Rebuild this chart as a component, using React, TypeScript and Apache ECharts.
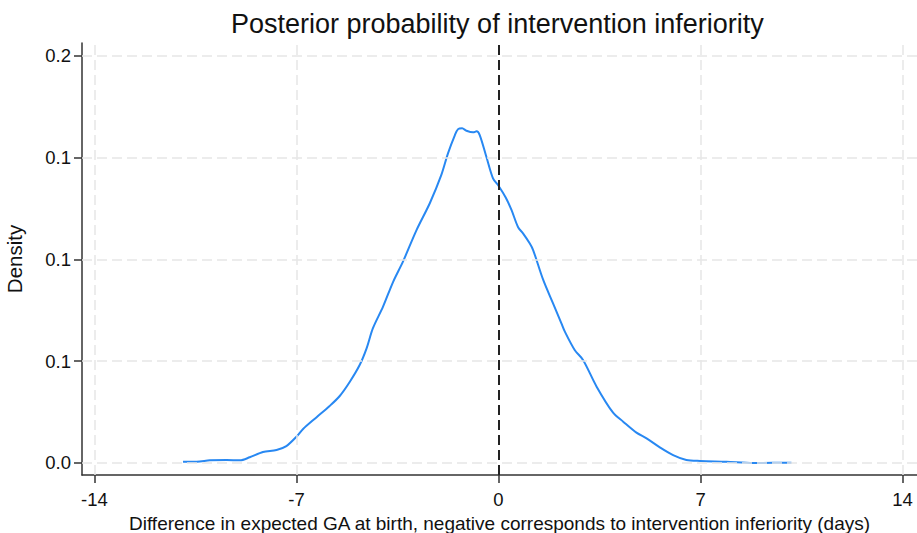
import React, { useEffect, useRef } from "react";
import * as echarts from "echarts";

const titleText = "Posterior probability of intervention inferiority";
const xAxisTitle = "Difference in expected GA at birth, negative corresponds to intervention inferiority (days)";
const yAxisTitle = "Density";

const xTicks = [-14, -7, 0, 7, 14];
const xTickLabels = ["-14", "-7", "0", "7", "14"];
const yTicks = [0, 0.05, 0.1, 0.15, 0.2];
const yTickLabels = ["0.0", "0.1", "0.1", "0.1", "0.2"];
const referenceX = 0;

const diffDays = [
  -10.93, -10.46, -10.0, -9.42, -8.96, -8.62, -8.16, -7.69, -7.35, -7.0, -6.77, -6.31, -5.85, -5.5,
  -5.15, -4.81, -4.57, -4.35, -4.0, -3.65, -3.31, -2.84, -2.38, -1.98, -1.75, -1.51, -1.4, -1.26,
  -1.11, -0.88, -0.76, -0.65, -0.42, -0.19, 0.0, 0.25, 0.45, 0.68, 0.85, 1.08, 1.2, 1.55, 1.89,
  2.18, 2.3, 2.64, 2.93, 3.4, 3.97, 4.32, 4.78, 5.13, 5.59, 6.05, 6.51, 6.99, 7.9, 8.82, 9.51, 10.15,
];
const density = [
  0.0006, 0.0006, 0.0013, 0.0015, 0.0013, 0.0028, 0.0054, 0.0064, 0.0083, 0.0129, 0.0167, 0.0224,
  0.028, 0.0329, 0.0399, 0.0481, 0.0563, 0.0662, 0.0768, 0.089, 0.0989, 0.1144, 0.1276, 0.1415,
  0.1521, 0.1611, 0.164, 0.1644, 0.1632, 0.1624, 0.1629, 0.1611, 0.1504, 0.1398, 0.1362, 0.1304,
  0.1243, 0.1158, 0.1128, 0.1079, 0.1046, 0.0899, 0.0784, 0.0686, 0.0645, 0.0555, 0.0506, 0.0375,
  0.0247, 0.0203, 0.0149, 0.0121, 0.0077, 0.0039, 0.0015, 0.001, 0.0006, 0.0, 0.0001, 0.0001,
];

const FONT = "'Liberation Sans', Arial, sans-serif";

export default function App() {
  const ref = useRef<HTMLDivElement>(null);
  useEffect(() => {
    if (!ref.current) return;
    const chart = echarts.init(ref.current, null, { renderer: "svg" });
    const gridStyle = { color: "#e6e6e6", width: 1.5, type: [10, 5] as any };
    chart.setOption({
      animation: false,
      backgroundColor: "#ffffff",
      textStyle: { fontFamily: FONT },
      title: {
        text: titleText,
        left: 231,
        top: 10,
        padding: 0,
        textStyle: { fontFamily: FONT, fontSize: 27, fontWeight: "normal", color: "#111" },
      },
      grid: { left: 82, right: 0, top: 43, bottom: 58, containLabel: false, outerBoundsMode: "none" },
      xAxis: {
        type: "value",
        min: -14.43,
        max: 14.5,
        name: xAxisTitle,
        nameLocation: "middle",
        nameGap: 35,
        nameTextStyle: { fontFamily: FONT, fontSize: 19, color: "#111" },
        axisLine: { show: true, onZero: false, lineStyle: { color: "#333", width: 1.5 } },
        axisTick: { show: true, length: 8, customValues: xTicks, lineStyle: { color: "#333", width: 1.5 } },
        axisLabel: {
          customValues: xTicks,
          margin: 15,
          fontSize: 18.5,
          color: "#111",
          fontFamily: FONT,
          formatter: (v: number) => {
            const i = xTicks.findIndex((t) => Math.abs(t - v) < 1e-9);
            return i >= 0 ? xTickLabels[i] : "";
          },
        },
        splitLine: { show: false },
      },
      yAxis: {
        type: "value",
        min: -0.0059,
        max: 0.2063,
        name: yAxisTitle,
        nameLocation: "middle",
        nameGap: 57,
        nameTextStyle: { fontFamily: FONT, fontSize: 20.5, color: "#111" },
        axisLine: { show: true, onZero: false, lineStyle: { color: "#333", width: 1.5 } },
        axisTick: { show: true, length: 8, customValues: yTicks, lineStyle: { color: "#333", width: 1.5 } },
        axisLabel: {
          customValues: yTicks,
          margin: 11,
          fontSize: 18.5,
          color: "#111",
          fontFamily: FONT,
          formatter: (v: number) => {
            const i = yTicks.findIndex((t) => Math.abs(t - v) < 1e-9);
            return i >= 0 ? yTickLabels[i] : "";
          },
        },
        splitLine: { show: false },
      },
      series: [
        {
          type: "line",
          data: [],
          silent: true,
          z: 1,
          markLine: {
            silent: true,
            symbol: "none",
            label: { show: false },
            lineStyle: gridStyle,
            data: [
              ...xTicks.filter((t) => t !== referenceX).map((t) => ({ xAxis: t })),
              ...yTicks.map((t) => ({ yAxis: t })),
            ],
          },
        },
        {
          type: "line",
          data: diffDays.map((x, i) => [x, density[i]]),
          showSymbol: false,
          smooth: 0.3,
          z: 3,
          lineStyle: { color: "#2888f2", width: 2 },
          itemStyle: { color: "#2888f2" },
          markLine: {
            silent: true,
            symbol: "none",
            label: { show: false },
            lineStyle: { color: "#222", width: 2, type: [10, 5] as any },
            data: [{ xAxis: referenceX }],
          },
        },
      ],
    });
    return () => chart.dispose();
  }, []);
  return (
    <div
      ref={ref}
      style={{ position: "fixed", left: 0, top: 0, width: 917, height: 533, background: "#fff" }}
    />
  );
}
